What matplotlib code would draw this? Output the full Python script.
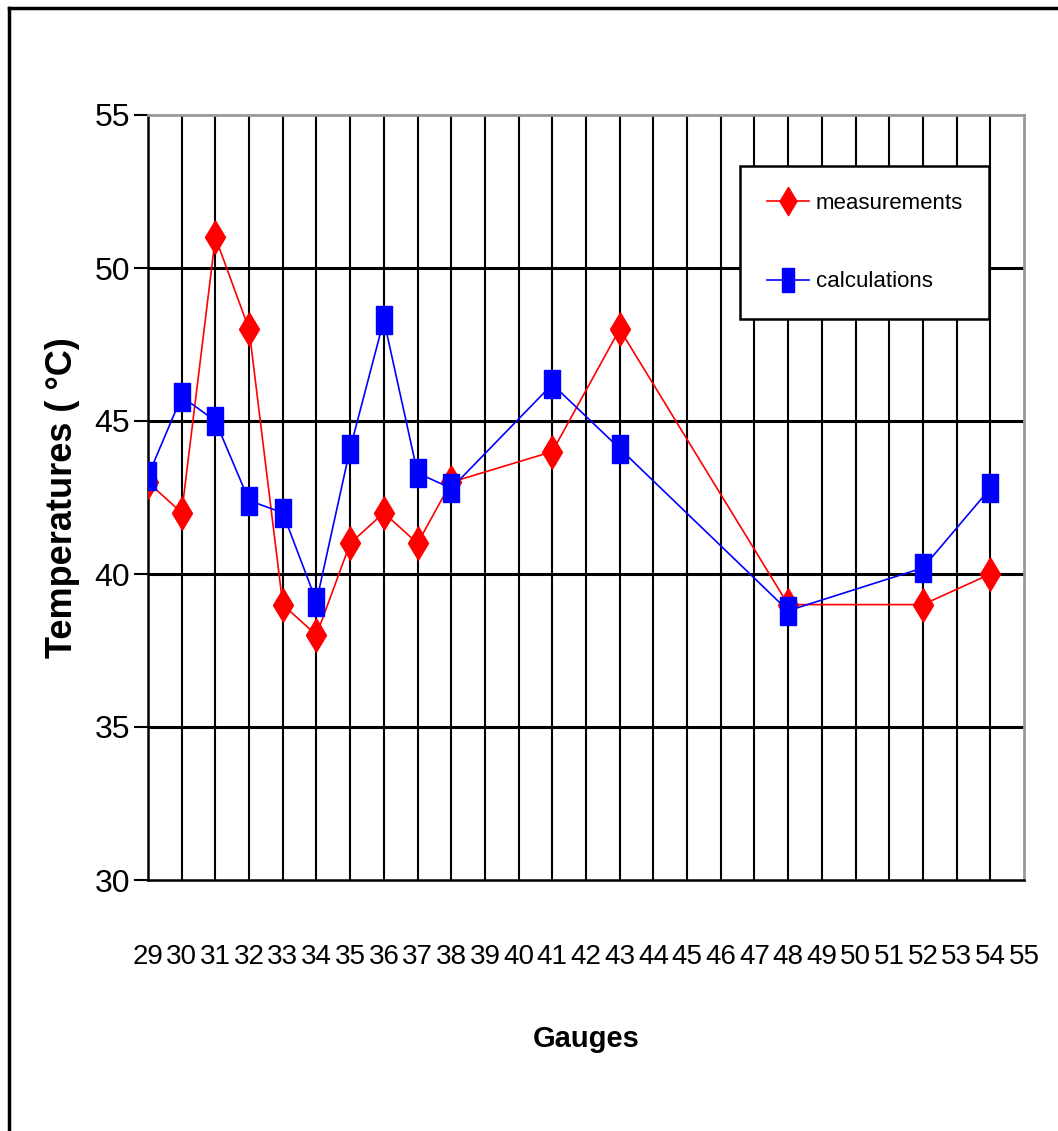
import matplotlib
matplotlib.use("Agg")
import matplotlib.pyplot as plt
from matplotlib.lines import Line2D

gauges = list(range(29, 56))
meas_gauges = [29, 30, 31, 32, 33, 34, 35, 36, 37, 38, 41, 43, 48, 52, 54]
measurements = [43, 42, 51, 48, 39, 38, 41, 42, 41, 43, 44, 48, 39, 39, 40]
calc_gauges = [29, 30, 31, 32, 33, 34, 35, 36, 37, 38, 41, 43, 48, 52, 54]
calculations = [43.2, 45.8, 45.0, 42.4, 42.0, 39.1, 44.1, 48.3, 43.3, 42.8, 46.2, 44.1, 38.8, 40.2, 42.8]

plt.rcParams['font.family'] = ['Liberation Sans', 'DejaVu Sans']

fig = plt.figure(figsize=(10.58, 11.31), dpi=100)
ax = fig.add_axes([148/1058, 1-880/1131, (1024-148)/1058, (880-115)/1131])

diamond = [(0, 1), (0.6, 0), (0, -1), (-0.6, 0), (0, 1)]
rect = [(-0.55, -1), (0.55, -1), (0.55, 1), (-0.55, 1), (-0.55, -1)]

mx = [gauges.index(g) for g in meas_gauges]
cx = [gauges.index(g) for g in calc_gauges]
ax.plot(mx, measurements, color='#ff0000', lw=1.2, marker=diamond, ms=24,
        mec='#ff0000', mfc='#ff0000', label='measurements', zorder=4)
ax.plot(cx, calculations, color='#0000ff', lw=1.2, marker=rect, ms=20,
        mec='#0000ff', mfc='#0000ff', label='calculations', zorder=5)

ax.set_xlim(0, len(gauges) - 1)
ax.set_ylim(30, 55)
ax.set_yticks([30, 35, 40, 45, 50, 55])
ax.set_xticks(range(len(gauges)))
ax.set_xticklabels([str(g) for g in gauges])
ax.tick_params(axis='x', length=0, pad=46, labelsize=20)
ax.tick_params(axis='y', length=10, width=1.5, pad=3, labelsize=23, direction='out')

for i in range(1, len(gauges) - 1):
    ax.axvline(i, color='black', lw=1.5, zorder=1)
for v in [35, 40, 45, 50]:
    ax.axhline(v, color='black', lw=2.2, zorder=1)

for s in ['left', 'bottom']:
    ax.spines[s].set_color('black')
    ax.spines[s].set_linewidth(1.8)
for s in ['top', 'right']:
    ax.spines[s].set_color('#999999')
    ax.spines[s].set_linewidth(2.0)

ax.set_xlabel('Gauges', fontsize=21, fontweight='bold', labelpad=40)
ax.set_ylabel('Temperatures ( °C)', fontsize=26, fontweight='bold', labelpad=10)

leg = ax.legend(loc='upper left', bbox_to_anchor=((740-148)/876, 1-(166-115)/765),
                borderaxespad=0, fontsize=16, frameon=True, fancybox=False,
                edgecolor='black', framealpha=1, handlelength=1.9, labelspacing=2.6,
                borderpad=1.2, handletextpad=0.3, markerscale=0.85)
leg.get_frame().set_linewidth(1.8)

fig.add_artist(Line2D([9/1058, 1], [1-8/1131, 1-8/1131], color='black', lw=2.5))
fig.add_artist(Line2D([9/1058, 9/1058], [0, 1-8/1131], color='black', lw=2.5))

fig.savefig('out.png', dpi=100)
